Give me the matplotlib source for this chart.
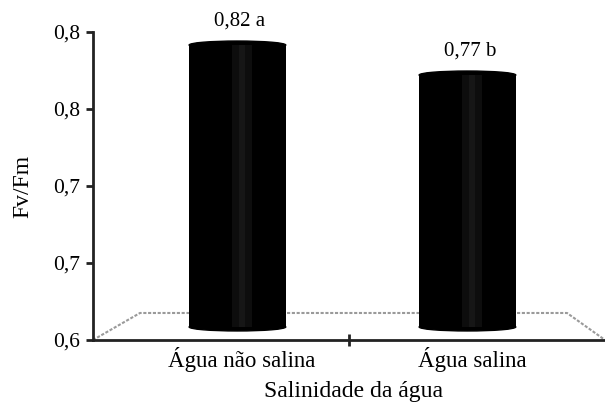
import matplotlib
matplotlib.use('Agg')
import matplotlib.pyplot as plt
from matplotlib.patches import Ellipse
from matplotlib.lines import Line2D

# data
categories = ['Água não salina', 'Água salina']
fvfm = [0.82, 0.77]
letters = ['a', 'b']
ytick_vals = [0.6, 0.65, 0.7, 0.75, 0.8]
ytick_labels = ['0,6', '0,7', '0,7', '0,8', '0,8']

plt.rcParams['font.family'] = ['Liberation Serif', 'DejaVu Serif']

fig = plt.figure(figsize=(6.05, 4.12), dpi=100)
W, H = 605, 412
x0, x1, y0, y1 = 93, 605, 340, 32
ax = fig.add_axes([x0 / W, 1 - y0 / H, (x1 - x0) / W, (y0 - y1) / H])

pos = [0, 1]
ax.set_xlim(-0.648, 1.578)
ax.set_ylim(0.6, 0.8)
ax.set_yticks(ytick_vals)
ax.set_yticklabels(ytick_labels, fontsize=15.5)
ax.set_xticks(pos)
ax.set_xticklabels(categories, fontsize=16.5)
ax.tick_params(axis='x', length=0, pad=5)
ax.tick_params(axis='y', length=5, width=2, pad=4, color='#222222')
ax.set_xticks([0.465], minor=True)
ax.tick_params(axis='x', which='minor', length=8, width=2, direction='inout', color='#222222')
for s in ['top', 'right']:
    ax.spines[s].set_visible(False)
for s in ['left', 'bottom']:
    ax.spines[s].set_linewidth(2)
    ax.spines[s].set_color('#222222')
ax.set_ylabel('Fv/Fm', fontsize=17, va='center')
ax.yaxis.set_label_coords(-0.137, 0.5)
ax.set_xlabel('Salinidade da água', fontsize=17, va='center')
ax.xaxis.set_label_coords(0.508, -0.168)

# 3d floor outline
floor_x = [0, 0.0918, 0.9258, 1.0]
floor_y = [0, 0.0877, 0.0877, 0]
ax.add_line(Line2D(floor_x, floor_y, transform=ax.transAxes, color='#9a9a9a',
                   lw=1.5, linestyle=(0, (1.5, 0.8)), zorder=1, clip_on=False))

# bars drawn on a hidden twin scale (3d perspective of the original)
bx = ax.twinx()
bx.set_ylim(0.3283, 0.8417)
bx.axis('off')
base = 0.35
width = 0.42
cap = 0.0133
for p, v, l in zip(pos, fvfm, letters):
    c = p - 0.02
    bx.bar(c, v - base, bottom=base, width=width, color='black', zorder=3)
    bx.add_patch(Ellipse((c, v), width, cap, color='black', zorder=3))
    bx.add_patch(Ellipse((c, base), width, cap, color='black', zorder=3))
    bx.bar(c + 0.02, v - base, bottom=base, width=width * 0.2, color='#0d0d0d', zorder=4)
    bx.bar(c + 0.02, v - base, bottom=base, width=width * 0.07, color='#161616', zorder=4)
    bx.annotate(f'{v:.2f}'.replace('.', ',') + ' ' + l, (c + 0.01, v),
                xytext=(0, 17), textcoords='offset points',
                ha='center', va='center', fontsize=15)

fig.savefig('out.png', dpi=100)
